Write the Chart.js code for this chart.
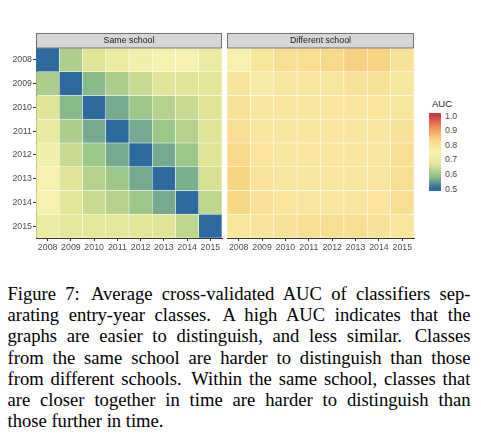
<!DOCTYPE html>
<html><head><meta charset="utf-8">
<script src="https://cdn.jsdelivr.net/npm/chart.js@4.4.1/dist/chart.umd.min.js"></script>
<style>
html,body{margin:0;padding:0;background:#fff;width:481px;height:435px;overflow:hidden;}
#wrap{position:relative;width:481px;height:435px;font-family:"Liberation Sans",Arial,sans-serif;}
#c1{position:absolute;left:0;top:0;}
#c2{position:absolute;left:224px;top:0;}
#legTitle{position:absolute;left:432px;top:98px;font-size:9.5px;color:#1a1a1a;line-height:12px;}
#bar{position:absolute;left:429px;top:113px;width:12px;height:78px;}
.lt{position:absolute;left:445px;font-size:8.8px;color:#4d4d4d;line-height:10px;height:10px;}
#cap{position:absolute;left:7.5px;top:283px;width:463px;font-family:"Liberation Serif","Times New Roman",serif;font-size:18.6px;line-height:21.2px;color:#000;}
#cap div{text-align:justify;text-align-last:justify;white-space:nowrap;}
#cap div.last{text-align-last:left;}
.xs{display:inline-block;width:3px;}
</style></head><body>
<div id="wrap">
<canvas id="c1" width="224" height="260"></canvas>
<canvas id="c2" width="192" height="260"></canvas>
<div id="legTitle"></div>
<div id="bar"></div>
<div id="legLabels"></div>
<div id="cap">
<div>Figure 7:<span class="xs"></span> Average cross-validated AUC of classifiers sep-</div>
<div>arating entry-year classes.<span class="xs"></span> A high AUC indicates that the</div>
<div>graphs are easier to distinguish, and less similar.<span class="xs"></span> Classes</div>
<div>from the same school are harder to distinguish than those</div>
<div>from different schools.<span class="xs"></span> Within the same school, classes that</div>
<div>are closer together in time are harder to distinguish than</div>
<div class="last">those further in time.</div>
</div>
</div>
<script>
const years = ['2008','2009','2010','2011','2012','2013','2014','2015'];
const panelTitles = ['Same school','Different school'];
const legendTitle = 'AUC';
const legendTicks = [0.5,0.6,0.7,0.8,0.9,1.0];

// rows = y-axis year (2008 top), columns = x-axis year
const sameSchool = [
  [0.50, 0.615, 0.665, 0.70, 0.72, 0.735, 0.735, 0.70],
  [0.61, 0.50, 0.575, 0.61, 0.64, 0.665, 0.665, 0.67],
  [0.665, 0.575, 0.50, 0.56, 0.595, 0.62, 0.64, 0.665],
  [0.695, 0.61, 0.56, 0.50, 0.56, 0.595, 0.62, 0.665],
  [0.72, 0.64, 0.595, 0.56, 0.50, 0.56, 0.595, 0.665],
  [0.735, 0.665, 0.62, 0.595, 0.56, 0.50, 0.565, 0.655],
  [0.735, 0.67, 0.64, 0.62, 0.595, 0.56, 0.50, 0.63],
  [0.70, 0.675, 0.675, 0.675, 0.67, 0.665, 0.63, 0.50]
];
const diffSchool = [
  [0.76, 0.79, 0.81, 0.81, 0.825, 0.84, 0.835, 0.80],
  [0.795, 0.775, 0.785, 0.79, 0.79, 0.80, 0.80, 0.79],
  [0.80, 0.785, 0.785, 0.785, 0.785, 0.787, 0.79, 0.79],
  [0.81, 0.787, 0.785, 0.785, 0.785, 0.785, 0.787, 0.80],
  [0.825, 0.792, 0.787, 0.785, 0.785, 0.785, 0.787, 0.81],
  [0.835, 0.797, 0.788, 0.787, 0.785, 0.787, 0.788, 0.81],
  [0.83, 0.80, 0.792, 0.788, 0.787, 0.788, 0.792, 0.81],
  [0.792, 0.795, 0.80, 0.81, 0.81, 0.81, 0.80, 0.792]
];

const colorStops = [
  [0.5, '#2d6a9f'], [0.5833, '#92c286'], [0.6667, '#e2e596'], [0.75, '#faf4b4'],
  [0.8333, '#f8d684'], [0.9167, '#ef925c'], [1.0, '#c83c44']
];
function hex2rgb(h){return [parseInt(h.slice(1,3),16),parseInt(h.slice(3,5),16),parseInt(h.slice(5,7),16)];}
function colorFor(v){
  if (v <= colorStops[0][0]) return colorStops[0][1];
  for (let i=1;i<colorStops.length;i++){
    if (v <= colorStops[i][0]){
      const [v0,c0]=colorStops[i-1],[v1,c1]=colorStops[i];
      const t=(v-v0)/(v1-v0), a=hex2rgb(c0), b=hex2rgb(c1);
      return 'rgb('+a.map((x,k)=>Math.round(x+(b[k]-x)*t)).join(',')+')';
    }
  }
  return colorStops[colorStops.length-1][1];
}

const FONT = '"Liberation Sans", Arial, sans-serif';
const stripPlugin = {
  id:'strip',
  afterDraw(chart, args, o){
    const {ctx, chartArea:a} = chart;
    ctx.save();
    ctx.fillStyle = '#d6d6d6';
    ctx.fillRect(a.left, o.top, a.right-a.left, a.top-o.top);
    ctx.strokeStyle = '#555'; ctx.lineWidth = 0.8;
    ctx.strokeRect(a.left+0.4, o.top+0.4, a.right-a.left-0.8, a.top-o.top-0.4);
    ctx.fillStyle = '#1a1a1a';
    ctx.font = '8.8px ' + FONT;
    ctx.textAlign = 'center'; ctx.textBaseline = 'middle';
    ctx.fillText(o.text, (a.left+a.right)/2, (o.top+a.top)/2+0.5);
    ctx.restore();
  }
};

function makeDatasets(matrix){
  const n = years.length;
  return years.map((rowYear, r) => ({
    label: rowYear,
    data: years.map(() => [n-1-r, n-r]),
    backgroundColor: matrix[r].map(colorFor),
    borderColor: 'rgba(255,255,255,0.28)',
    borderWidth: 0.6,
    borderSkipped: false,
    barPercentage: 1,
    categoryPercentage: 1,
    grouped: false
  }));
}

function makeChart(id, matrix, title, showY, padding, yWidth){
  return new Chart(document.getElementById(id), {
    type:'bar',
    data:{labels: years, datasets: makeDatasets(matrix)},
    options:{
      responsive:false, animation:false,
      layout:{padding: padding},
      plugins:{legend:{display:false}, tooltip:{enabled:false}, strip:{text:title, top:33}},
      scales:{
        x:{
          type:'category', offset:true,
          grid:{display:true, drawOnChartArea:false, drawTicks:true, tickLength:3, color:'#333', offset:false},
          border:{display:true, color:'#333', width:1},
          ticks:{color:'#4d4d4d', font:{size:8.8, family:FONT}, padding:1.5, maxRotation:0, autoSkip:false},
          afterFit: s => { s.height = 22; }
        },
        y:{
          type:'linear', min:0, max:years.length, display: showY,
          grid:{display:true, drawOnChartArea:false, drawTicks:true, tickLength:3, color:'#333'},
          border:{display:true, color:'#333', width:1},
          afterBuildTicks: s => { s.ticks = years.map((y,i)=>({value: years.length-1-i+0.5})); },
          ticks:{color:'#4d4d4d', font:{size:8.8, family:FONT}, padding:1, autoSkip:false,
                 callback: v => years[years.length-1-Math.floor(v)]},
          afterFit: s => { s.width = yWidth; }
        }
      }
    },
    plugins:[stripPlugin]
  });
}

makeChart('c1', sameSchool, panelTitles[0], true, {top:48, right:2, bottom:0, left:0}, 36);
makeChart('c2', diffSchool, panelTitles[1], false, {top:48, right:2, bottom:0, left:3}, 0);

// colour bar legend
document.getElementById('legTitle').textContent = legendTitle;
const barTop = 113, barH = 78, yLow = 188.5, yHigh = 115.5;
const yOf = v => yLow - (v-0.5)/(1.0-0.5)*(yLow-yHigh);
const grad = colorStops.map(([v,c]) => c + ' ' + ((barTop+barH-yOf(v))/barH*100).toFixed(2) + '%').join(',');
document.getElementById('bar').style.background = 'linear-gradient(to top,' + grad + ')';
const ll = document.getElementById('legLabels');
legendTicks.forEach(v => {
  const d = document.createElement('div');
  d.className = 'lt';
  d.style.top = (yOf(v)-5) + 'px';
  d.textContent = v.toFixed(1);
  ll.appendChild(d);
});
</script>
</body></html>
